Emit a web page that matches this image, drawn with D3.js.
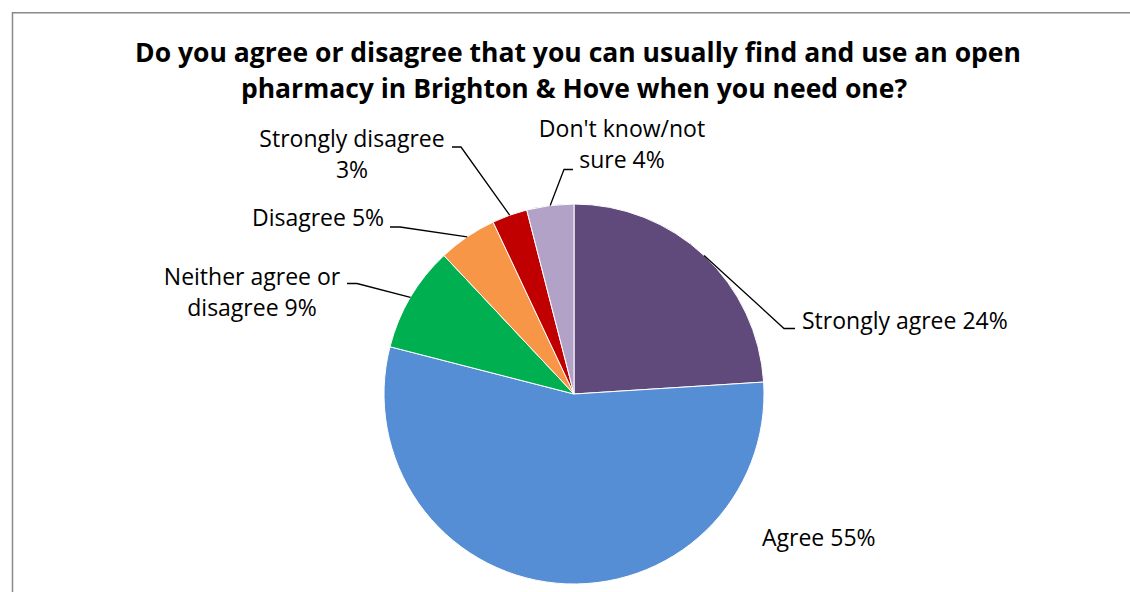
<!DOCTYPE html>
<html>
<head>
<meta charset="utf-8">
<script src="https://cdn.jsdelivr.net/npm/d3@7"></script>
<style>
  html, body { margin: 0; padding: 0; background: #fff; overflow: hidden; }
  svg { display: block; }
  text { font-family: "Open Sans", sans-serif; fill: #000; }
</style>
</head>
<body>
<svg id="chart" width="1130" height="592"></svg>
<script>
// Survey responses (percent of respondents)
const categories = ["Strongly agree", "Agree", "Neither agree or disagree", "Disagree", "Strongly disagree", "Don't know/not sure"];
const values = [24, 55, 9, 5, 3, 4];
const colors = ["#604A7B", "#558ED5", "#00B050", "#F79646", "#C00000", "#B3A2C7"];
const labelLines = [
  ["Strongly agree 24%"],
  ["Agree 55%"],
  ["Neither agree or", "disagree 9%"],
  ["Disagree 5%"],
  ["Strongly disagree", "3%"],
  ["Don't know/not", "sure 4%"]
];
const titleLines = [
  "Do you agree or disagree that you can usually find and use an open",
  "pharmacy in Brighton & Hove when you need one?"
];

// Layout: label anchor, text anchor, and leader elbow/end points (null = no leader)
const labelLayout = [
  { x: 802, y: 329, anchor: "start",  leader: [[784, 328.5], [795, 328.5]] },
  { x: 762, y: 546, anchor: "start",  leader: null },
  { x: 252, y: 285, anchor: "middle", leader: [[357, 283.5], [347, 283.5]] },
  { x: 318, y: 226, anchor: "middle", leader: [[400, 227], [390, 227]] },
  { x: 352, y: 147, anchor: "middle", leader: [[461, 147], [452, 147]] },
  { x: 622, y: 137, anchor: "middle", leader: [[564, 169.5], [573, 169.5]] }
];
const titleX = [578, 574];

const W = 1130, H = 592;
const cx = 574, cy = 394, radius = 190;
const labelSize = 23, lineGap = 31;

const svg = d3.select("#chart");

// Chart area frame (left and top edges visible)
svg.append("rect")
  .attr("x", 12.5).attr("y", 12.75)
  .attr("width", W + 20).attr("height", H + 20)
  .attr("fill", "#fff")
  .attr("stroke", "#898989")
  .attr("stroke-width", 1.5);

// Title
const title = svg.append("text")
  .attr("text-anchor", "middle")
  .attr("font-weight", "bold")
  .attr("font-size", 26.5);
titleLines.forEach((t, i) => {
  title.append("tspan")
    .attr("x", titleX[i])
    .attr("y", 62 + i * 35.5)
    .text(t);
});

// Pie
const pie = d3.pie().sort(null).value(d => d)(values);
const arc = d3.arc().innerRadius(0).outerRadius(radius);

const g = svg.append("g").attr("transform", `translate(${cx},${cy})`);
g.selectAll("path.slice")
  .data(pie)
  .join("path")
  .attr("class", "slice")
  .attr("d", arc)
  .attr("fill", (d, i) => colors[i])
  .attr("stroke", "#fff")
  .attr("stroke-width", 1);

// Leader lines from slice edge (mid-angle) to the labels
pie.forEach((d, i) => {
  const lay = labelLayout[i];
  if (!lay.leader) return;
  const mid = (d.startAngle + d.endAngle) / 2;
  const start = [cx + radius * Math.sin(mid), cy - radius * Math.cos(mid)];
  const pts = [start, ...lay.leader];
  svg.append("path")
    .attr("d", d3.line()(pts))
    .attr("fill", "none")
    .attr("stroke", "#000")
    .attr("stroke-width", 1.3);
});

// Labels
labelLines.forEach((lines, i) => {
  const lay = labelLayout[i];
  const t = svg.append("text")
    .attr("text-anchor", lay.anchor)
    .attr("font-size", labelSize);
  lines.forEach((ln, j) => {
    t.append("tspan")
      .attr("x", lay.x)
      .attr("y", lay.y + j * lineGap)
      .text(ln);
  });
});
</script>
</body>
</html>
